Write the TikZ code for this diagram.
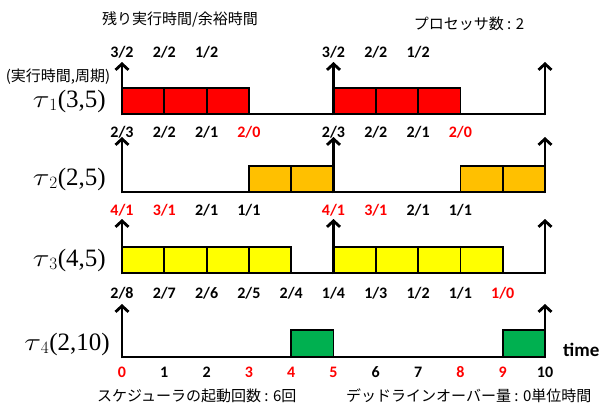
\documentclass[tikz,border=0pt]{standalone}
\usepackage{fontspec}
\setmainfont{Liberation Serif}
\newfontfamily\jpfont{Noto Sans CJK JP}
\newfontfamily\lblfont{Carlito}
\usetikzlibrary{arrows.meta}
\definecolor{tred}{HTML}{FF0000}
\definecolor{torange}{HTML}{FFC000}
\definecolor{tyellow}{HTML}{FFFF00}
\definecolor{tgreen}{HTML}{00B050}
\begin{document}
\begin{tikzpicture}[x=1pt,y=-1pt,
  cell/.style={draw=black,line width=1.8pt},
  baseln/.style={line width=2.6pt},
  uparrow/.style={line width=2.8pt,-{Straight Barb[length=6pt,width=13pt]}},
  lb/.style={font=\lblfont\bfseries\fontsize{16}{16}\selectfont,text=black,inner sep=0pt,anchor=base},
  lbr/.style={lb,text=tred},
  jp/.style={font=\jpfont\fontsize{15}{15}\selectfont,inner sep=0pt},
  taulbl/.style={font=\fontsize{25}{25}\selectfont,inner sep=0pt,anchor=base east}]
\useasboundingbox (0,0) rectangle (606,408);

% header texts
\node[jp] (hdr) at (180,19) {残り実行時間/余裕時間};
\node[jp] (proc) at (469,24) {プロセッサ数 : 2};
\node[jp] (param) at (58,77) {(実行時間,周期)};

% task labels
\node[taulbl] (n1) at (106,107) {$\scalebox{1.25}[1]{$\tau$}_{1}$(3,5)};
\node[taulbl] (n2) at (106,185) {$\scalebox{1.25}[1]{$\tau$}_{2}$(2,5)};
\node[taulbl] (n3) at (106,266) {$\scalebox{1.25}[1]{$\tau$}_{3}$(4,5)};
\node[taulbl] (n4) at (110,350) {$\scalebox{1.25}[1]{$\tau$}_{4}$(2,10)};

\begin{scope}[xshift=122pt,x=42.3pt]
  % ---- tau1 ----
  \foreach \t in {0,1,2,5,6,7} \draw[cell,fill=tred] (\t,114) rectangle (\t+1,88);
  \draw[baseln] (0,114) -- (10,114);
  \foreach \t in {0,5,10} {
    \coordinate (b1-\t) at (\t,115.3);
    \coordinate (h1-\t) at (\t,62);
    \draw[uparrow] (b1-\t) -- (h1-\t);
  }
  \foreach \t/\s in {0/{3/2},1/{2/2},2/{1/2},5/{3/2},6/{2/2},7/{1/2}}
    \node[lb] (t1-\t) at (\t,57) {\s};
  \foreach \t/\s in {0/{2/3},1/{2/2},2/{2/1},5/{2/3},6/{2/2},7/{2/1}}
    \node[lb] (u1-\t) at (\t,137) {\s};
  \node[lbr] (u1-3) at (3,137) {2/0};
  \node[lbr] (u1-8) at (8,137) {2/0};

  % ---- tau2 ----
  \foreach \t in {3,4,8,9} \draw[cell,fill=torange] (\t,192) rectangle (\t+1,166);
  \draw[baseln] (0,192) -- (10,192);
  \foreach \t in {0,5,10} {
    \coordinate (b2-\t) at (\t,193.3);
    \coordinate (h2-\t) at (\t,137);
    \draw[uparrow] (b2-\t) -- (h2-\t);
  }
  \foreach \o in {0,5} {
    \node[lbr] at (\o,215) {4/1};
    \node[lbr] at (\o+1,215) {3/1};
    \node[lb] at (\o+2,215) {2/1};
    \node[lb] at (\o+3,215) {1/1};
  }

  % ---- tau3 ----
  \foreach \t in {0,1,2,3,5,6,7,8} \draw[cell,fill=tyellow] (\t,273) rectangle (\t+1,247);
  \draw[baseln] (0,273) -- (10,273);
  \foreach \t in {0,5,10} {
    \coordinate (b3-\t) at (\t,274.3);
    \coordinate (h3-\t) at (\t,219);
    \draw[uparrow] (b3-\t) -- (h3-\t);
  }
  \foreach \t/\s in {0/{2/8},1/{2/7},2/{2/6},3/{2/5},4/{2/4},5/{1/4},6/{1/3},7/{1/2},8/{1/1}}
    \node[lb] (u3-\t) at (\t,298) {\s};
  \node[lbr] (u3-9) at (9,298) {1/0};

  % ---- tau4 ----
  \foreach \t in {4,9} \draw[cell,fill=tgreen] (\t,357) rectangle (\t+1,330);
  \draw[baseln] (0,357) -- (10,357);
  \foreach \t in {0,10} {
    \coordinate (b4-\t) at (\t,358.3);
    \coordinate (h4-\t) at (\t,304);
    \draw[uparrow] (b4-\t) -- (h4-\t);
  }
  \foreach \t in {1,2,6,7,10} \node[lb] (x-\t) at (\t,377) {\t};
  \foreach \t in {0,3,4,5,8,9} \node[lbr] (x-\t) at (\t,377) {\t};
\end{scope}

\node[font=\lblfont\bfseries\fontsize{19}{19}\selectfont,inner sep=0pt,anchor=base west] (time) at (563,356) {time};

% bottom texts
\node[jp,anchor=west] (sched) at (97,396) {スケジューラの起動回数 : 6回};
\node[jp,anchor=west] (dl) at (346,396) {デッドラインオーバー量 : 0単位時間};
\end{tikzpicture}
\end{document}
